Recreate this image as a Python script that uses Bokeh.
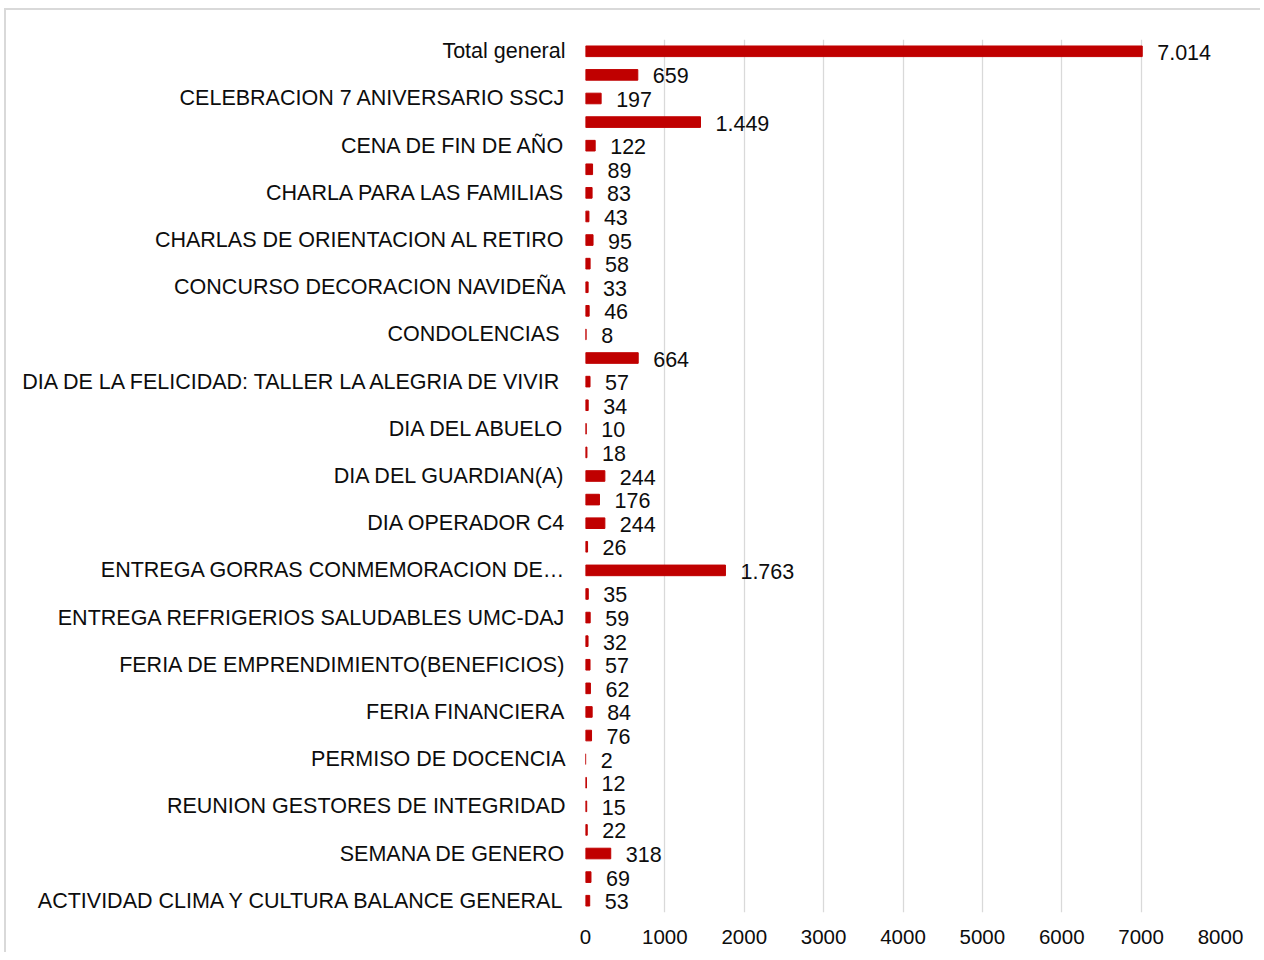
from bokeh.plotting import figure
from bokeh.models import ColumnDataSource, Range1d, FixedTicker
from bokeh.core.properties import value
from bokeh.embed import file_html
from bokeh.resources import INLINE

# Category labels shown on the axis (every other bar carries a label)
labels = [
    "Total general",
    "CELEBRACION 7 ANIVERSARIO SSCJ",
    "CENA DE FIN DE AÑO",
    "CHARLA PARA LAS FAMILIAS",
    "CHARLAS DE ORIENTACION AL RETIRO",
    "CONCURSO DECORACION NAVIDEÑA",
    "CONDOLENCIAS ",
    "DIA DE LA FELICIDAD: TALLER LA ALEGRIA DE VIVIR",
    "DIA DEL ABUELO",
    "DIA DEL GUARDIAN(A)",
    "DIA OPERADOR C4",
    "ENTREGA GORRAS CONMEMORACION DE…",
    "ENTREGA REFRIGERIOS SALUDABLES UMC-DAJ",
    "FERIA DE EMPRENDIMIENTO(BENEFICIOS)",
    "FERIA FINANCIERA",
    "PERMISO DE DOCENCIA",
    "REUNION GESTORES DE INTEGRIDAD",
    "SEMANA DE GENERO",
    "ACTIVIDAD CLIMA Y CULTURA BALANCE GENERAL",
]

# Bar values, top to bottom
values = [7014, 659, 197, 1449, 122, 89, 83, 43, 95, 58, 33, 46, 8, 664, 57,
          34, 10, 18, 244, 176, 244, 26, 1763, 35, 59, 32, 57, 62, 84, 76, 2,
          12, 15, 22, 318, 69, 53]

x_ticks = [0, 1000, 2000, 3000, 4000, 5000, 6000, 7000, 8000]

pos = list(range(len(values)))
text_labels = [f"{v:,}".replace(",", ".") for v in values]
src = ColumnDataSource(dict(pos=pos, value=values, label=text_labels))

FONT = "Liberation Sans"
TXT = "#0d0d0d"
GRID = "#d9d9d9"

W, H = 1256, 944
p = figure(width=W, height=H, output_backend="svg", toolbar_location=None,
           x_range=Range1d(0, 8000), y_range=Range1d(len(values) - 0.5, -0.5),
           min_border_left=579, min_border_right=42, min_border_top=29,
           min_border_bottom=42,
           styles={"border-top": "2px solid #d9d9d9", "border-left": "2px solid #d9d9d9",
                   "margin-top": "8px", "margin-left": "4px"})
p.outline_line_color = None
p.background_fill_color = "white"
p.border_fill_color = "white"

p.hbar(y="pos", left=0, right="value", height=0.45, color="#c00000", source=src)
p.text(x="value", y="pos", text="label", source=src, x_offset=15, y_offset=1,
       text_align="left", text_baseline="middle", text_font=value(FONT),
       text_font_size="21.5px", text_color=TXT)

# x axis
p.xaxis.ticker = FixedTicker(ticks=x_ticks)
p.xaxis.axis_line_color = None
p.xaxis.major_tick_line_color = None
p.xaxis.minor_tick_line_color = None
p.xaxis.major_tick_out = 0
p.xaxis.major_label_standoff = 17
p.xaxis.major_label_text_font = FONT
p.xaxis.major_label_text_font_size = "20.5px"
p.xaxis.major_label_text_color = TXT

# y axis: labels on every other bar
label_pos = list(range(0, len(values), 2))
p.yaxis.ticker = FixedTicker(ticks=label_pos)
p.yaxis.major_label_overrides = {k: lab for k, lab in zip(label_pos, labels)}
p.yaxis.axis_line_color = None
p.yaxis.major_tick_line_color = None
p.yaxis.minor_tick_line_color = None
p.yaxis.major_tick_out = 0
p.yaxis.major_label_standoff = 20
p.yaxis.major_label_text_font = FONT
p.yaxis.major_label_text_font_size = "21.5px"
p.yaxis.major_label_text_color = TXT

p.xgrid.grid_line_color = GRID
p.xgrid.grid_line_width = 1.3
p.ygrid.grid_line_color = None

open("out.html", "w").write(file_html(p, INLINE))
